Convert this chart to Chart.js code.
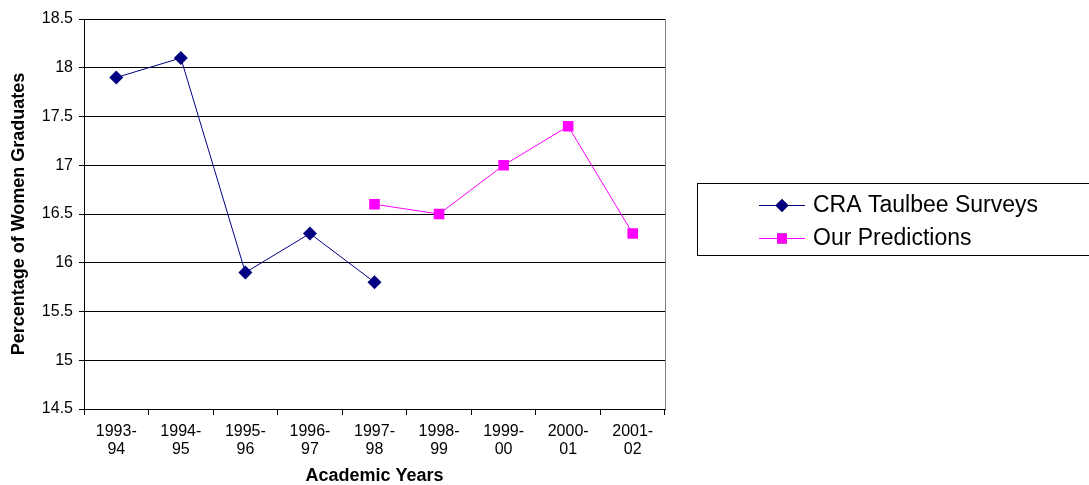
<!DOCTYPE html>
<html lang="en">
<head>
  <meta charset="UTF-8">
  <title>Percentage of Women Graduates</title>
  <script src="https://cdn.jsdelivr.net/npm/chart.js"></script>
  <style>
    html, body { margin: 0; padding: 0; background: #fff; }
    #wrap { position: relative; width: 1089px; height: 485px; }
  </style>
</head>
<body>
  <div id="wrap"><canvas id="grafica" width="1089" height="485"></canvas></div>

  <script>
    // data
    const years = [['1993-', '94'], ['1994-', '95'], ['1995-', '96'], ['1996-', '97'], ['1997-', '98'],
                   ['1998-', '99'], ['1999-', '00'], ['2000-', '01'], ['2001-', '02']];
    const taulbee = [17.9, 18.1, 15.9, 16.3, 15.8, null, null, null, null];
    const predictions = [null, null, null, null, 16.6, 16.5, 17.0, 17.4, 16.3];
    const yTicks = [14.5, 15, 15.5, 16, 16.5, 17, 17.5, 18, 18.5];

    const fontFam = 'Arial, "Liberation Sans", sans-serif';

    // right border of plot + boxed legend on the right
    const frame = {
      id: 'frame',
      afterDraw(chart) {
        const ctx = chart.ctx;
        const a = chart.chartArea;
        ctx.save();
        ctx.strokeStyle = '#808080';
        ctx.lineWidth = 1;
        ctx.beginPath();
        ctx.moveTo(Math.round(a.right) + 0.5, a.top);
        ctx.lineTo(Math.round(a.right) + 0.5, a.bottom);
        ctx.stroke();

        // legend box
        ctx.strokeStyle = '#000';
        ctx.strokeRect(697.5, 183.5, 400, 72);
        chart.data.datasets.forEach((ds, i) => {
          const y = 205 + i * 33;
          ctx.strokeStyle = ds.borderColor;
          ctx.lineWidth = 1;
          ctx.beginPath();
          ctx.moveTo(759, y + 0.5);
          ctx.lineTo(805, y + 0.5);
          ctx.stroke();
          Chart.helpers.drawPoint(ctx, {pointStyle: ds.pointStyle, radius: ds.pointRadius - 0.5, borderWidth: 0}, 782, y + 0.5);
          ctx.fillStyle = ds.pointBackgroundColor;
          ctx.fill();
          ctx.fillStyle = '#000';
          ctx.font = '23px ' + fontFam;
          ctx.textBaseline = 'middle';
          ctx.fillText(ds.label, 813, y + 1);
        });
        ctx.restore();
      }
    };

    new Chart(document.getElementById('grafica'), {
      type: 'line',
      data: {
        labels: years,
        datasets: [
          {
            label: 'CRA Taulbee Surveys',
            data: taulbee,
            borderColor: '#000080',
            backgroundColor: '#000080',
            pointBackgroundColor: '#000080',
            pointBorderColor: '#000080',
            pointStyle: 'rectRot',
            pointRadius: 7,
            pointBorderWidth: 0,
            borderWidth: 1,
            tension: 0,
            fill: false
          },
          {
            label: 'Our Predictions',
            data: predictions,
            borderColor: '#ff00ff',
            backgroundColor: '#ff00ff',
            pointBackgroundColor: '#ff00ff',
            pointBorderColor: '#ff00ff',
            pointStyle: 'rect',
            pointRadius: 7.5,
            pointBorderWidth: 0,
            borderWidth: 1,
            tension: 0,
            fill: false
          }
        ]
      },
      options: {
        responsive: false,
        animation: false,
        layout: { padding: { left: 0, top: 19, right: 424, bottom: 0 } },
        plugins: {
          legend: { display: false },
          tooltip: { enabled: false }
        },
        scales: {
          x: {
            offset: true,
            grid: { offset: true, drawOnChartArea: false, drawTicks: true, tickLength: 6, color: '#000' },
            border: { display: true, color: '#000', width: 1 },
            ticks: { color: '#000', font: { family: fontFam, size: 16, lineHeight: 1.15 }, padding: 7, maxRotation: 0, autoSkip: false },
            title: { display: true, text: 'Academic Years', color: '#000', font: { family: fontFam, size: 18, weight: 'bold', lineHeight: 1 }, padding: { top: 0, bottom: 0 } },
            afterFit(s) { s.height = 76; }
          },
          y: {
            min: 14.5,
            max: 18.5,
            afterBuildTicks(s) { s.ticks = yTicks.map(v => ({ value: v })); },
            grid: { color: '#000', tickLength: 5, drawTicks: true },
            border: { display: true, color: '#000', width: 1 },
            ticks: { color: '#000', font: { family: fontFam, size: 16 }, padding: 6, callback: v => String(v) },
            title: { display: true, text: 'Percentage of Women Graduates', color: '#000', font: { family: fontFam, size: 18, weight: 'bold', lineHeight: 1 }, padding: { top: 10, bottom: 0 } },
            afterFit(s) { s.width = 84; }
          }
        }
      },
      plugins: [frame]
    });
  </script>
</body>
</html>
